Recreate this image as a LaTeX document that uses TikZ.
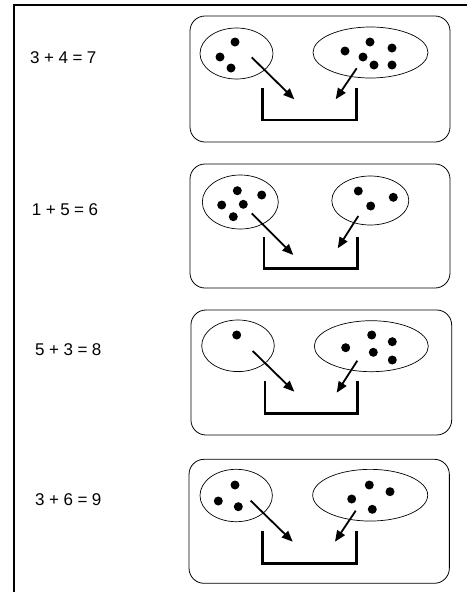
\documentclass[tikz,border=0pt]{standalone}
\usepackage{fontspec}
\setmainfont{Liberation Sans}
\usetikzlibrary{shapes.geometric,arrows.meta}
\newcommand{\eqgap}{\hspace{4.5pt}}
\begin{document}
\begin{tikzpicture}[x=1pt,y=-1pt,
  panelbox/.style={draw,line width=0.8pt,rounded corners=15pt},
  setell/.style={draw,ellipse,line width=0.7pt,inner sep=0pt},
  dotc/.style={circle,fill=black,inner sep=0pt,minimum size=9pt},
  movearrow/.style={line width=1.8pt,-{Triangle[length=11pt,width=9pt]}},
  bracketline/.style={line width=2.8pt,line cap=butt,line join=miter},
  eqn/.style={anchor=west,font=\fontsize{17}{20}\selectfont,inner sep=0pt},
  frameline/.style={line width=1.3pt}]
\useasboundingbox (0,0) rectangle (467,592);
% frame
\coordinate (ftr) at (467,5);
\coordinate (ftl) at (14,5);
\coordinate (fbl) at (14,592);
\draw[frameline] (ftr) -- (ftl) -- (fbl);

% ---------- panel 1 ----------
\node[eqn] (e1) at (30,58) {3\eqgap+\eqgap4\eqgap=\eqgap7};
\node[panelbox,minimum width=260pt,minimum height=126pt] (p1) at (320,79) {};
\node[setell,minimum width=73pt,minimum height=51pt] (l1) at (236.5,53.5) {};
\node[setell,minimum width=115pt,minimum height=51pt] (r1) at (370.5,52.5) {};
\node[dotc] (l1a) at (235,42) {};
\node[dotc] (l1b) at (220,57) {};
\node[dotc] (l1c) at (231,68) {};
\node[dotc] (r1a) at (345,51) {};
\node[dotc] (r1b) at (370,42) {};
\node[dotc] (r1c) at (392,48) {};
\node[dotc] (r1d) at (363,57) {};
\node[dotc] (r1e) at (374,65) {};
\node[dotc] (r1f) at (392,65) {};
\coordinate (b1a) at (262.7,88);
\coordinate (b1b) at (262.7,120);
\coordinate (b1c) at (356.7,120);
\coordinate (b1d) at (356.7,88);
\draw[bracketline] (b1a) -- (b1b) -- (b1c) -- (b1d);
\coordinate (a1s) at (251.7,57.3);
\coordinate (a1e) at (294.3,99.3);
\coordinate (c1s) at (356.7,68.3);
\coordinate (c1e) at (335.7,99.3);
\draw[movearrow] (a1s) -- (a1e);
\draw[movearrow] (c1s) -- (c1e);

% ---------- panel 2 ----------
\node[eqn] (e2) at (31.7,210) {1\eqgap+\eqgap5\eqgap=\eqgap6};
\node[panelbox,minimum width=260pt,minimum height=124pt] (p2) at (320,226) {};
\node[setell,minimum width=76pt,minimum height=54pt] (l2) at (240.3,202) {};
\node[setell,minimum width=77pt,minimum height=49pt] (r2) at (370.3,200.5) {};
\node[dotc] (l2a) at (237.3,190.7) {};
\node[dotc] (l2b) at (261.7,195) {};
\node[dotc] (l2c) at (221.7,205) {};
\node[dotc] (l2d) at (243.3,204.3) {};
\node[dotc] (l2e) at (233.3,216.7) {};
\node[dotc] (r2a) at (358.3,191) {};
\node[dotc] (r2b) at (393.3,197.3) {};
\node[dotc] (r2c) at (370.7,206) {};
\coordinate (b2a) at (264,237.3);
\coordinate (b2b) at (264,268.3);
\coordinate (b2c) at (357.7,268.3);
\coordinate (b2d) at (357.7,237.3);
\draw[bracketline] (b2a) -- (b2b) -- (b2c) -- (b2d);
\coordinate (a2s) at (251.7,213.3);
\coordinate (a2e) at (293.3,255);
\coordinate (c2s) at (358.3,216);
\coordinate (c2e) at (337.7,248.3);
\draw[movearrow] (a2s) -- (a2e);
\draw[movearrow] (c2s) -- (c2e);

% ---------- panel 3 ----------
\node[eqn] (e3) at (35,350) {5\eqgap+\eqgap3\eqgap=\eqgap8};
\node[panelbox,minimum width=260.7pt,minimum height=125pt] (p3) at (321.3,372.5) {};
\node[setell,minimum width=72.6pt,minimum height=51.6pt] (l3) at (238,345.8) {};
\node[setell,minimum width=114pt,minimum height=51pt] (r3) at (371.3,346.2) {};
\node[dotc] (l3a) at (236.7,335) {};
\node[dotc] (r3a) at (345.7,347.7) {};
\node[dotc] (r3b) at (371.7,335) {};
\node[dotc] (r3c) at (392.3,341.7) {};
\node[dotc] (r3d) at (373.3,352.3) {};
\node[dotc] (r3e) at (392.3,360) {};
\coordinate (b3a) at (265,381);
\coordinate (b3b) at (265,413.3);
\coordinate (b3c) at (357.7,413.3);
\coordinate (b3d) at (357.7,381);
\draw[bracketline] (b3a) -- (b3b) -- (b3c) -- (b3d);
\coordinate (a3s) at (252.7,351);
\coordinate (a3e) at (294.3,391.7);
\coordinate (c3s) at (357.3,360.7);
\coordinate (c3e) at (336.7,392.7);
\draw[movearrow] (a3s) -- (a3e);
\draw[movearrow] (c3s) -- (c3e);

% ---------- panel 4 ----------
\node[eqn] (e4) at (35,499.3) {3\eqgap+\eqgap6\eqgap=\eqgap9};
\node[panelbox,minimum width=260.3pt,minimum height=124pt] (p4) at (319.2,521.3) {};
\node[setell,minimum width=72.4pt,minimum height=52.4pt] (l4) at (236.2,495.5) {};
\node[setell,minimum width=115pt,minimum height=51.7pt] (r4) at (370.2,495.2) {};
\node[dotc] (l4a) at (235,485) {};
\node[dotc] (l4b) at (218.3,501) {};
\node[dotc] (l4c) at (238.3,506.7) {};
\node[dotc] (r4a) at (369.3,485) {};
\node[dotc] (r4b) at (390,491.7) {};
\node[dotc] (r4c) at (351.7,499) {};
\node[dotc] (r4d) at (372.3,509.3) {};
\coordinate (b4a) at (262.7,530.7);
\coordinate (b4b) at (262.7,563.3);
\coordinate (b4c) at (356.7,563.3);
\coordinate (b4d) at (356.7,530.7);
\draw[bracketline] (b4a) -- (b4b) -- (b4c) -- (b4d);
\coordinate (a4s) at (250.7,500.7);
\coordinate (a4e) at (292.7,541.7);
\coordinate (c4s) at (355.7,510.7);
\coordinate (c4e) at (335,541.7);
\draw[movearrow] (a4s) -- (a4e);
\draw[movearrow] (c4s) -- (c4e);
\end{tikzpicture}
\end{document}
